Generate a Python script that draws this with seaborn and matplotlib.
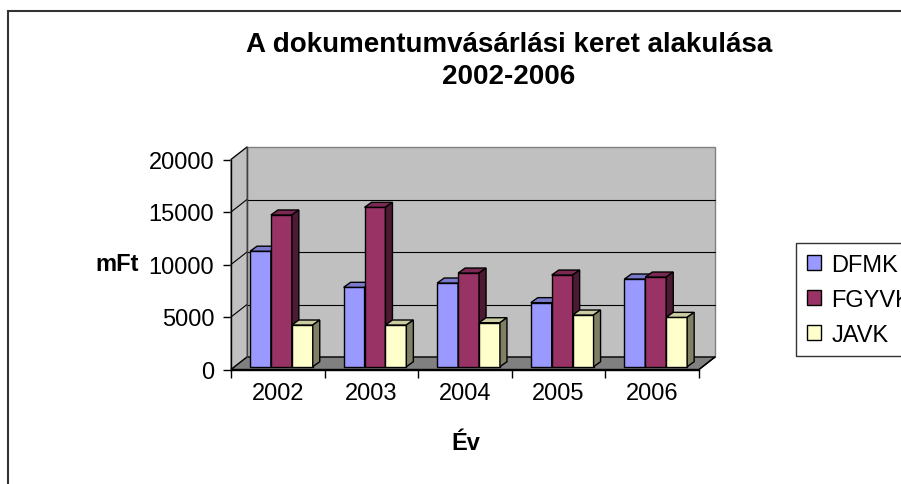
import numpy as np
import pandas as pd
import matplotlib
matplotlib.use("Agg")
import matplotlib.pyplot as plt
from matplotlib.patches import Polygon, Rectangle
import seaborn as sns

# Data (mFt)
years = ["2002", "2003", "2004", "2005", "2006"]
series = ["DFMK", "FGYVK", "JAVK"]
dfmk = [11000, 7560, 7970, 6100, 8350]
fgyvk = [14450, 15180, 8920, 8730, 8540]
javk = [3970, 3970, 4190, 4920, 4700]

colors = {"DFMK": "#9999FF", "FGYVK": "#993366", "JAVK": "#FFFFCC"}

df = pd.DataFrame({
    "Év": years * 3,
    "mFt": dfmk + fgyvk + javk,
    "sorozat": ["DFMK"] * 5 + ["FGYVK"] * 5 + ["JAVK"] * 5,
})

sns.set_style("ticks")
plt.rcParams["font.family"] = ["Liberation Sans", "DejaVu Sans"]
plt.rcParams["text.color"] = "black"
plt.rcParams["xtick.color"] = "black"
plt.rcParams["ytick.color"] = "black"

W, H = 901, 485
fig = plt.figure(figsize=(W / 100, H / 100), dpi=100)
fig.patch.set_facecolor("white")

# front plane of the 3D box, in pixels
left, right, top, bottom = 231, 699, 160.5, 370.5
ax = fig.add_axes([left / W, 1 - bottom / H, (right - left) / W, (bottom - top) / H])
ax.set_facecolor("none")

xmin, xmax, ymin, ymax = -0.5, 4.5, 0, 20000
px_x = (xmax - xmin) / (right - left)
px_y = (ymax - ymin) / (bottom - top)

sns.barplot(data=df, x="Év", y="mFt", hue="sorozat", palette=colors, width=0.67,
            saturation=1, edgecolor="black", linewidth=1, ax=ax)
ax.set_xlim(xmin, xmax)
ax.set_ylim(ymin, ymax)

# wall depth and bar depth
DX, DY = 16 * px_x, 12.5 * px_y
OX, OY = 3.6 * px_x, 2.8 * px_y
BX, BY = 7 * px_x, 5 * px_y

wall = "#C0C0C0"
ax.add_patch(Polygon([(xmin + DX, DY), (xmax + DX, DY), (xmax + DX, ymax + DY), (xmin + DX, ymax + DY)],
                     closed=True, facecolor=wall, edgecolor="#808080", lw=1, zorder=1, clip_on=False))
ax.add_patch(Polygon([(xmin, 0), (xmin + DX, DY), (xmin + DX, ymax + DY), (xmin, ymax)],
                     closed=True, facecolor=wall, edgecolor="#808080", lw=1, zorder=1, clip_on=False))
ax.add_patch(Polygon([(xmin, 0), (xmax, 0), (xmax + DX, DY), (xmin + DX, DY)],
                     closed=True, facecolor="#808080", edgecolor="black", lw=1, zorder=2, clip_on=False))
for v in [5000, 10000, 15000, 20000]:
    ax.plot([xmin, xmin + DX], [v, v + DY], color="black", lw=0.8, zorder=2, clip_on=False)
    if v < ymax:
        ax.plot([xmin + DX, xmax + DX], [v + DY, v + DY], color="black", lw=0.8, zorder=2, clip_on=False)
ax.plot([xmin + DX, xmin + DX], [DY, ymax + DY], color="#404040", lw=1, zorder=2, clip_on=False)
ax.plot([xmax, xmax + DX], [0, DY], color="black", lw=1, zorder=3, clip_on=False)


def shade(c, f):
    r, g, b = matplotlib.colors.to_rgb(c)
    return (r * f, g * f, b * f)


# fake 3D: shift bars back a little and add top and side faces
bars = [b for cont in ax.containers for b in cont]
bars.sort(key=lambda b: b.get_x())
for i, b in enumerate(bars):
    x, w, h = b.get_x() + OX, b.get_width(), b.get_height()
    c = b.get_facecolor()
    b.set_x(x)
    b.set_y(OY)
    b.set_zorder(10 + 3 * i)
    b.set_clip_on(False)
    ax.add_patch(Polygon([(x, h + OY), (x + w, h + OY), (x + w + BX, h + OY + BY), (x + BX, h + OY + BY)],
                         closed=True, facecolor=shade(c, 0.8), edgecolor="black", lw=1,
                         zorder=11 + 3 * i, clip_on=False))
    ax.add_patch(Polygon([(x + w, OY), (x + w + BX, OY + BY), (x + w + BX, h + OY + BY), (x + w, h + OY)],
                         closed=True, facecolor=shade(c, 0.5), edgecolor="black", lw=1,
                         zorder=11 + 3 * i, clip_on=False))

# axes and ticks
sns.despine(ax=ax)
for s in ["left", "bottom"]:
    ax.spines[s].set_color("black")
    ax.spines[s].set_linewidth(1)
    ax.spines[s].set_zorder(5)
ax.set_yticks([0, 5000, 10000, 15000, 20000])
ax.tick_params(axis="y", length=6, width=1, color="black", labelcolor="black", pad=6, labelsize=17)
ax.set_xticks(np.arange(-0.5, 5, 1))
ax.set_xticklabels([])
ax.set_xticks(range(5), minor=True)
ax.set_xticklabels(years, minor=True)
ax.tick_params(axis="x", which="major", length=6, width=1, color="black")
ax.tick_params(axis="x", which="minor", length=0, pad=9, labelsize=17, labelcolor="black")
ax.set_xlabel("")
ax.set_ylabel("")

fig.text(117 / W, 1 - 265 / H, "mFt", fontsize=17, fontweight="bold", ha="center", va="center")
fig.text(466 / W, 1 - 450 / H, "Év", fontsize=17, fontweight="bold", ha="center", va="baseline")
fig.text(509 / W, 1 - 52 / H, "A dokumentumvásárlási keret alakulása", fontsize=20,
         fontweight="bold", ha="center", va="baseline")
fig.text(509 / W, 1 - 84 / H, "2002-2006", fontsize=20, fontweight="bold", ha="center", va="baseline")

# legend, partly cut by the right edge like the original
handles, labels = ax.get_legend_handles_labels()
ax.get_legend().remove()
leg = fig.legend(handles, labels, loc="upper left", bbox_to_anchor=(796 / W, 1 - 244 / H),
                 fontsize=17, frameon=True, fancybox=False, edgecolor="black",
                 handlelength=0.6, handleheight=0.6, handletextpad=0.45,
                 labelspacing=0.55, borderpad=0.45, borderaxespad=0)
leg.get_frame().set_linewidth(1)

# chart area border (right and bottom lie outside the picture)
fig.patches.append(Rectangle((8 / W, -0.2), 1.2, 1.2 - 12 / H, transform=fig.transFigure,
                             fill=False, edgecolor="#333333", lw=1.5))

fig.savefig("out.png", dpi=100)
